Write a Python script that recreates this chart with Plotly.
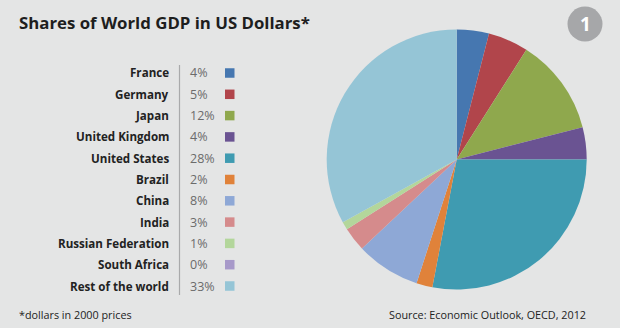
import plotly.graph_objects as go

# Shares of world GDP (percent, US dollars at 2000 prices)
countries = ["France", "Germany", "Japan", "United Kingdom", "United States",
             "Brazil", "China", "India", "Russian Federation", "South Africa",
             "Rest of the world"]
shares = [4, 5, 12, 4, 28, 2, 8, 3, 1, 0, 33]
colors = ["#4677b0", "#b1454b", "#8fa84d", "#6a5392", "#3f9bb1",
          "#e0823a", "#8ea8d6", "#d58b8c", "#b3d69b", "#a799c9", "#95c5d6"]

W, H = 620, 328
BG = "#e4e5e5"
FONT = "Open Sans"

fig = go.Figure()

# Pie: clockwise from 12 o'clock, no slice labels
cx, cy, r = 456.7, 159.5, 130
fig.add_trace(go.Pie(
    labels=countries,
    values=shares,
    sort=False,
    direction="clockwise",
    rotation=0,
    marker=dict(colors=colors, line=dict(width=0)),
    textinfo="none",
    hoverinfo="label+percent",
    showlegend=False,
    domain=dict(x=[(cx - r) / W, (cx + r) / W],
                y=[1 - (cy + r) / H, 1 - (cy - r) / H]),
))

annotations = []
shapes = []

# Table-style legend: name | value | swatch
row0, step = 73, 21.3
for i, (name, val, col) in enumerate(zip(countries, shares, colors)):
    y = row0 + i * step
    annotations.append(dict(
        x=171, y=y, xref="paper", yref="paper", text=f"<b>{name}</b>",
        xanchor="right", yanchor="middle", showarrow=False,
        font=dict(family=FONT, size=11.6, color="#222222")))
    annotations.append(dict(
        x=188, y=y, xref="paper", yref="paper", text=f"{val}%",
        xanchor="left", yanchor="middle", showarrow=False,
        font=dict(family=FONT, size=12.5, color="#6b6b6b")))
    shapes.append(dict(
        type="rect", xref="paper", yref="paper",
        x0=225, x1=234.5, y0=y - 4.75, y1=y + 4.75,
        fillcolor=col, line=dict(width=0)))

# Separator between names and values
shapes.append(dict(type="line", xref="paper", yref="paper",
                   x0=179.5, x1=179.5, y0=65, y1=295,
                   line=dict(color="#a9aaab", width=1.2)))

# Numbered badge
shapes.append(dict(type="circle", xref="paper", yref="paper",
                   x0=585 - 17.5, x1=585 + 17.5, y0=24 - 17.5, y1=24 + 17.5,
                   fillcolor="#a6a7a9", line=dict(width=0)))
annotations.append(dict(
    x=585, y=24, xref="paper", yref="paper", text="<b>1</b>",
    xanchor="center", yanchor="middle", showarrow=False,
    font=dict(family=FONT, size=19, color="#ffffff")))

# Title and notes
annotations.append(dict(
    x=17, y=22, xref="paper", yref="paper",
    text="<b>Shares of World GDP in US Dollars*</b>",
    xanchor="left", yanchor="middle", showarrow=False,
    font=dict(family=FONT, size=16.8, color="#1e1e1e")))
annotations.append(dict(
    x=17, y=314, xref="paper", yref="paper",
    text="*dollars in 2000 prices",
    xanchor="left", yanchor="middle", showarrow=False,
    font=dict(family=FONT, size=10.8, color="#222222")))
annotations.append(dict(
    x=588, y=314, xref="paper", yref="paper",
    text="Source: Economic Outlook, OECD, 2012",
    xanchor="right", yanchor="middle", showarrow=False,
    font=dict(family=FONT, size=10.8, color="#222222")))

# Convert pixel positions (from top-left) into paper coordinates
for a in annotations:
    a["x"] = a["x"] / W
    a["y"] = 1 - a["y"] / H
for s in shapes:
    s["x0"], s["x1"] = s["x0"] / W, s["x1"] / W
    s["y0"], s["y1"] = 1 - s["y1"] / H, 1 - s["y0"] / H

fig.update_layout(
    width=W, height=H,
    margin=dict(l=0, r=0, t=0, b=0),
    paper_bgcolor=BG, plot_bgcolor=BG,
    annotations=annotations, shapes=shapes,
)

fig.write_html("out.html", config={"displayModeBar": False})
